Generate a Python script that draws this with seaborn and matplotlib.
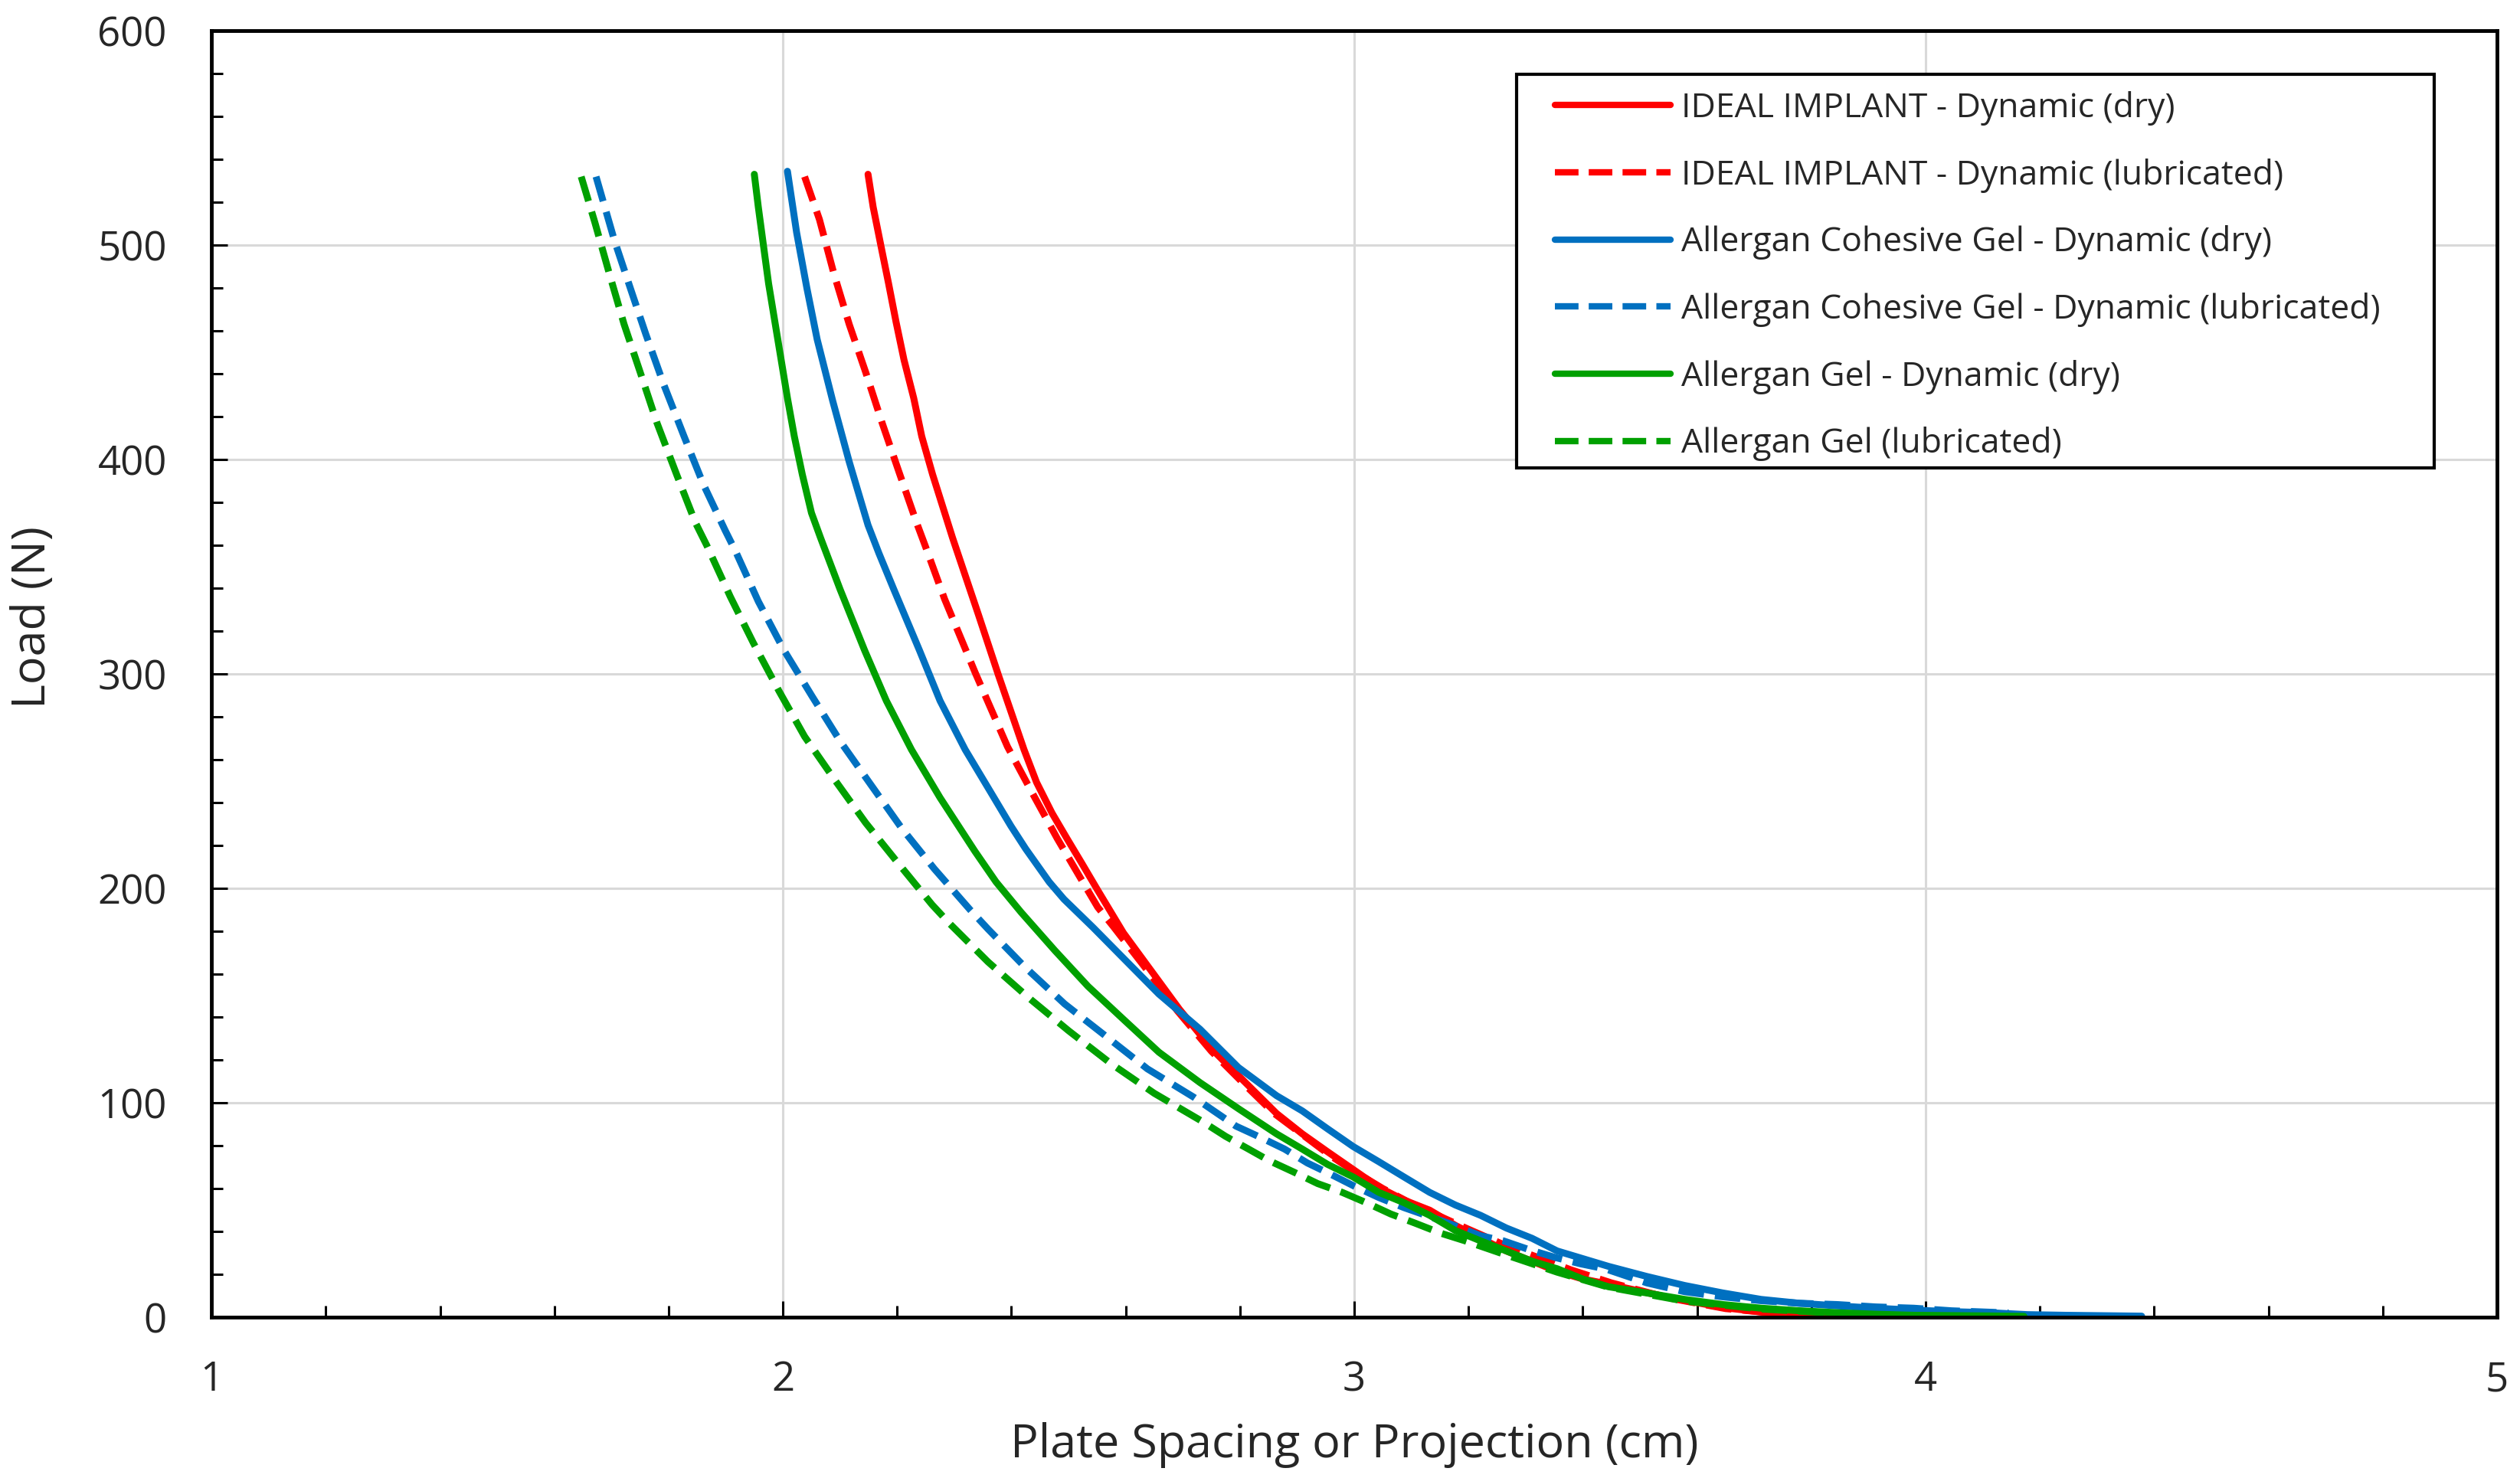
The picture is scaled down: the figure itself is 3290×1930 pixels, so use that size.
import pandas as pd
import numpy as np
import matplotlib.pyplot as plt
from matplotlib.ticker import MultipleLocator
from matplotlib.patches import Rectangle
import seaborn as sns

sns.set_style('white')
plt.rcParams['font.family'] = ['Open Sans', 'DejaVu Sans']

#Data (x = plate spacing in cm, y = load in N)
ideal_dry_x = [2.149, 2.158, 2.172, 2.185, 2.198, 2.212, 2.229, 2.243, 2.262, 2.297, 2.342, 2.377,
               2.422, 2.444, 2.471, 2.497, 2.524, 2.551, 2.596, 2.645, 2.694, 2.752, 2.788, 2.819,
               2.864, 2.909, 2.953, 2.998, 3.043, 3.087, 3.132, 3.177, 3.221, 3.266, 3.311, 3.355,
               3.400, 3.445, 3.545, 3.645, 3.745, 3.850, 3.930]
ideal_dry_y = [533, 517.7, 499.1, 482, 464.2, 446.4, 428.6, 410.8, 393, 363.4, 327.8, 299.6,
               264.7, 249.4, 235.1, 223.3, 211.3, 199.1, 179.2, 161.4, 143.6, 124.7, 115.1, 106.9,
               95.0, 85.5, 77.2, 68.9, 60.6, 54.6, 49.9, 42.8, 36.8, 30.9, 26.1, 21.4,
               17.8, 15.4, 9.5, 4.5, 1.4, 0.5, 0.1]

ideal_lub_x = [2.038, 2.064, 2.089, 2.116, 2.145, 2.174, 2.203, 2.234, 2.249, 2.283, 2.337, 2.393,
               2.436, 2.480, 2.527, 2.551, 2.578, 2.640, 2.690, 2.750, 2.810, 2.860, 2.910, 2.960,
               3.000, 3.050, 3.100, 3.150, 3.200, 3.260, 3.320, 3.380, 3.450, 3.550, 3.650, 3.750,
               3.850, 3.950]
ideal_lub_y = [531.9, 511.9, 486.9, 463.1, 440.6, 416.8, 394.3, 370.5, 359.8, 334.9, 300.3, 266.1,
               244.7, 223.3, 202, 191.2, 182.3, 161, 143, 124, 108, 95, 85, 75,
               68, 60, 53, 47, 41, 34, 28, 22, 16, 9, 4, 1.5,
               0.6, 0.1]

cohesive_dry_x = [2.008, 2.024, 2.042, 2.060, 2.087, 2.116, 2.149, 2.168, 2.194, 2.239, 2.275, 2.319,
                  2.364, 2.399, 2.425, 2.466, 2.492, 2.543, 2.596, 2.658, 2.730, 2.797, 2.864, 2.909,
                  2.953, 2.998, 3.043, 3.087, 3.132, 3.177, 3.221, 3.266, 3.311, 3.355, 3.400, 3.445,
                  3.512, 3.578, 3.645, 3.712, 3.779, 3.845, 3.912, 3.979, 4.045, 4.112, 4.178, 4.245,
                  4.378]
cohesive_dry_y = [534.4, 505.9, 479.9, 456, 427.5, 399, 369.4, 356.3, 339.5, 311, 287.5, 264.7,
                  244.7, 229.1, 218.4, 203, 194.9, 181.7, 167.4, 150.7, 134.3, 116.5, 103.3, 96.2,
                  87.9, 79.6, 72.5, 65.4, 58.2, 52.3, 47.5, 41.6, 36.8, 30.9, 27.3, 23.7,
                  19, 14.8, 11.3, 8.3, 6.5, 5.3, 4.2, 3.3, 2.6, 2.1, 1.2, 0.9,
                  0.5]

cohesive_lub_x = [1.673, 1.705, 1.733, 1.760, 1.792, 1.827, 1.861, 1.899, 1.917, 1.957, 2.002, 2.051,
                  2.101, 2.154, 2.208, 2.265, 2.328, 2.359, 2.424, 2.493, 2.565, 2.638, 2.719, 2.793,
                  2.837, 2.878, 2.918, 2.960, 3.000, 3.043, 3.087, 3.164, 3.221, 3.261, 3.306, 3.351,
                  3.396, 3.440, 3.512, 3.578, 3.645, 3.712, 3.779, 3.845, 3.912, 3.979, 4.045, 4.145]
cohesive_lub_y = [531.9, 502.3, 479.9, 458.5, 434.6, 410.8, 388.3, 366.9, 357.3, 333.8, 311, 289.6,
                  268.3, 248.3, 228, 209.1, 189.9, 181, 163.2, 146.1, 131.1, 115.8, 102.6, 89.1,
                  83.7, 78.4, 71.9, 66.5, 61.1, 55.8, 51.1, 43.9, 38, 35.6, 31.5, 27.9,
                  24.9, 22.5, 16, 11.9, 9.5, 7.7, 6.5, 5.9, 4.8, 4.2, 3.0, 2.0]

gel_dry_x = [1.950, 1.957, 1.966, 1.975, 1.986, 1.997, 2.008, 2.020, 2.034, 2.050, 2.066, 2.100,
             2.143, 2.181, 2.225, 2.275, 2.336, 2.373, 2.417, 2.476, 2.534, 2.596, 2.658, 2.730,
             2.797, 2.864, 2.909, 2.953, 2.998, 3.043, 3.087, 3.132, 3.177, 3.221, 3.266, 3.311,
             3.355, 3.400, 3.445, 3.512, 3.578, 3.645, 3.712, 3.779, 3.845, 3.912, 3.979, 4.112,
             4.172]
gel_dry_y = [533, 517.7, 499.8, 482, 464.2, 446.4, 428.6, 410.8, 393, 375.1, 363.4, 339.5,
             311, 287.5, 264.7, 242.3, 217.3, 203, 188.8, 171, 154.3, 138.9, 123.6, 109.4,
             97.3, 85.5, 78.4, 71.3, 65.4, 58.2, 53.4, 47.5, 40.4, 35.6, 30.9, 26.1,
             22.6, 17.8, 14.2, 11.3, 8.3, 5.9, 4.2, 3.0, 2.1, 1.4, 0.9, 0.6,
             0.4]

gel_lub_x = [1.647, 1.671, 1.696, 1.722, 1.752, 1.780, 1.814, 1.847, 1.867, 1.908, 1.948, 1.993,
             2.038, 2.091, 2.145, 2.203, 2.261, 2.292, 2.359, 2.430, 2.500, 2.574, 2.650, 2.732,
             2.775, 2.815, 2.851, 2.894, 2.936, 2.979, 3.021, 3.064, 3.106, 3.151, 3.194, 3.266,
             3.355, 3.445, 3.578, 3.712, 3.845, 3.979]
gel_lub_y = [531.9, 510.5, 486.9, 463.1, 439.3, 416.8, 393, 370.5, 359.8, 336, 314.6, 292.1,
             270.8, 250.5, 230.5, 211.3, 192.4, 183.5, 165.7, 149, 133.6, 118.3, 104.4, 91.6,
             84.3, 78.4, 73, 67.7, 62.3, 58.2, 53.4, 48.1, 43.9, 39.2, 35.6, 29,
             21, 14, 7.5, 3.8, 1.8, 0.6]

labels = ['IDEAL IMPLANT - Dynamic (dry)',
          'IDEAL IMPLANT - Dynamic (lubricated)',
          'Allergan Cohesive Gel - Dynamic (dry)',
          'Allergan Cohesive Gel - Dynamic (lubricated)',
          'Allergan Gel - Dynamic (dry)',
          'Allergan Gel (lubricated)']

series = [(ideal_dry_x, ideal_dry_y, '#FF0000', '-'),
          (ideal_lub_x, ideal_lub_y, '#FF0000', '--'),
          (cohesive_dry_x, cohesive_dry_y, '#0070C0', '-'),
          (cohesive_lub_x, cohesive_lub_y, '#0070C0', '--'),
          (gel_dry_x, gel_dry_y, '#00A000', '-'),
          (gel_lub_x, gel_lub_y, '#00A000', '--')]

fig = plt.figure(figsize=(32.91, 19.30), dpi=100)
ax = fig.add_axes([0.0839, 0.1088, 0.9067, 0.8705])

#Plot each curve
for (xs, ys, col, ls), lab in zip(series, labels):
    df = pd.DataFrame({'x': xs, 'y': ys})
    line_kw = dict(linestyle=ls)
    if ls == '--':
        line_kw['dashes'] = (2.6, 1.3)
    sns.lineplot(data=df, x='x', y='y', sort=False, color=col, linewidth=6.5,
                 label=lab, ax=ax, **line_kw)

ax.set_xlim(1, 5)
ax.set_ylim(0, 600)
ax.xaxis.set_major_locator(MultipleLocator(1))
ax.xaxis.set_minor_locator(MultipleLocator(0.2))
ax.yaxis.set_major_locator(MultipleLocator(100))
ax.yaxis.set_minor_locator(MultipleLocator(20))
ax.tick_params(which='both', direction='in', bottom=True, left=True, top=False, right=False,
               color='black', width=2.2)
ax.tick_params(which='major', length=15, labelsize=38)
ax.tick_params(axis='y', which='major', pad=42)
ax.tick_params(axis='x', which='major', pad=40)
ax.tick_params(which='minor', length=11)
ax.grid(True, which='major', color='#d9d9d9', linewidth=2.2)
ax.set_axisbelow(True)
for sp in ax.spines.values():
    sp.set_color('black')
    sp.set_linewidth(3.5)

ax.set_xlabel('Plate Spacing or Projection (cm)', fontsize=44, labelpad=20)
ax.set_ylabel('Load (N)', fontsize=44)
ax.yaxis.set_label_coords(-0.068, 0.544)

#Legend frame drawn as its own box, entries placed inside it
frame = Rectangle((0.571, 0.660), 0.4015, 0.306, transform=ax.transAxes, facecolor='white',
                  edgecolor='black', linewidth=3, zorder=5)
ax.add_patch(frame)
leg = ax.legend(loc='upper left', bbox_to_anchor=(0.5878, 0.953), frameon=False,
                fontsize=32, handlelength=3.4, handletextpad=0.3,
                labelspacing=0.96, borderpad=0, borderaxespad=0)
leg.set_zorder(6)
for h in leg.get_lines():
    h.set_linewidth(6)

plt.savefig('out.png', dpi=100)
